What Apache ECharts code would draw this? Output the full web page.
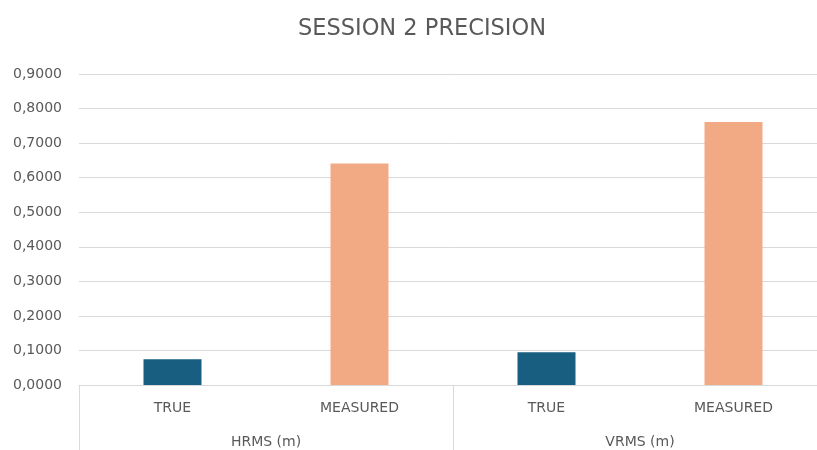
<!DOCTYPE html>
<html>
<head>
<meta charset="utf-8">
<script src="https://cdn.jsdelivr.net/npm/echarts@6/dist/echarts.min.js"></script>
<style>
  html, body { margin: 0; padding: 0; background: #ffffff; }
  #chart { width: 817px; height: 450px; }
</style>
</head>
<body>
<div id="chart"></div>
<script>
// Precision figures per metric group (metres)
const groups = ['HRMS (m)', 'VRMS (m)'];
const kinds = ['TRUE', 'MEASURED', 'TRUE', 'MEASURED'];
const values = [0.0743, 0.6410, 0.0945, 0.7610];
const yTicks = [0, 0.9, 0.1]; // min, max, step

const kindColor = { TRUE: '#175e80', MEASURED: '#f2aa84' };
const textColor = '#595959';
const lineColor = '#d9d9d9';
const fontFamily = '"DejaVu Sans", sans-serif';

const chart = echarts.init(document.getElementById('chart'));
chart.setOption({
  animation: false,
  title: {
    text: 'SESSION 2 PRECISION',
    left: 417, top: 13, textAlign: 'center',
    textStyle: { color: textColor, fontSize: 22.5, fontWeight: 'normal', fontFamily }
  },
  // plot area runs a little past the right edge of the canvas
  grid: { left: 79, width: 748, top: 74, height: 311, outerBoundsMode: 'none', containLabel: false },
  xAxis: [
    {
      type: 'category',
      data: kinds.map((k, i) => k + '#' + i),
      axisLine: { show: true, lineStyle: { color: lineColor, width: 1 } },
      axisTick: { show: false },
      axisLabel: {
        color: textColor, fontSize: 14, fontFamily, margin: 16,
        formatter: v => v.split('#')[0]
      }
    },
    {
      type: 'category',
      position: 'bottom',
      data: groups,
      axisLine: { show: false },
      axisTick: { show: true, length: 66, interval: 0, lineStyle: { color: lineColor, width: 1 } },
      axisLabel: { color: textColor, fontSize: 14, fontFamily, margin: 50 }
    }
  ],
  yAxis: {
    type: 'value',
    min: yTicks[0], max: yTicks[1], interval: yTicks[2],
    axisLine: { show: false },
    axisTick: { show: false },
    splitLine: { lineStyle: { color: lineColor, width: 1 } },
    axisLabel: {
      color: textColor, fontSize: 14, fontFamily, margin: 17,
      formatter: v => v.toFixed(4).replace('.', ',')
    }
  },
  series: [{
    type: 'bar',
    xAxisIndex: 0,
    barWidth: 58,
    data: values.map((v, i) => ({ value: v, itemStyle: { color: kindColor[kinds[i]] } }))
  }]
});
</script>
</body>
</html>
